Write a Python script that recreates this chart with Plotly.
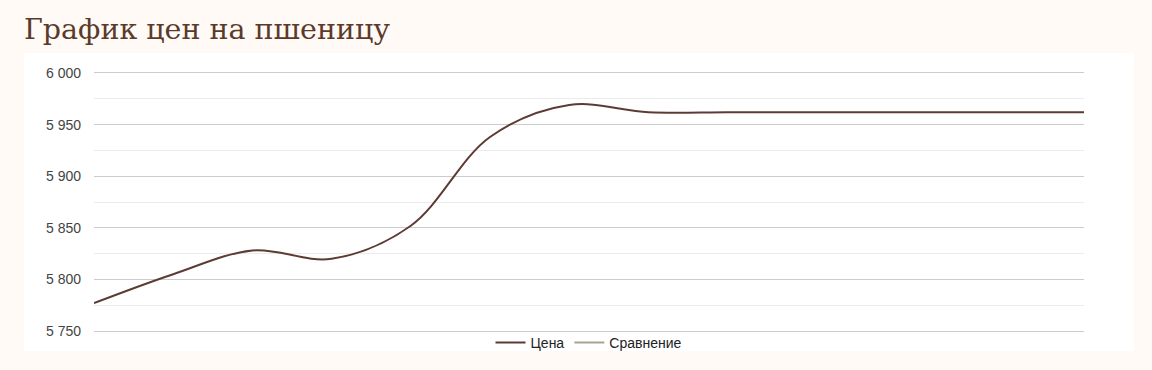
import plotly.graph_objects as go

# Data
days = [0, 1, 2, 3, 4, 5, 6, 7, 8, 9, 10, 11, 12, 12.5]
price = [5777, 5805, 5828, 5820, 5852, 5938, 5969, 5962, 5962, 5962, 5962, 5962, 5962, 5962]
compare = [None] * len(days)
y_ticks = [5750, 5800, 5850, 5900, 5950, 6000]
series_names = ["Цена", "Сравнение"]
title_text = "График цен на пшеницу"

W, H = 1152, 370
L, R, T, B = 94, 1084, 73, 332
pw, ph = R - L, B - T

fig = go.Figure()
fig.add_trace(go.Scatter(
    x=days, y=price, name=series_names[0], mode="lines",
    line=dict(color="#5d3b34", width=2, shape="spline", smoothing=1.0),
))
fig.add_trace(go.Scatter(
    x=days, y=compare, name=series_names[1], mode="lines",
    line=dict(color="#a6a690", width=2),
))

fig.update_layout(
    width=W, height=H,
    margin=dict(l=L, r=W - R, t=T, b=H - B, pad=0),
    paper_bgcolor="#fffaf6",
    plot_bgcolor="#ffffff",
    separators=", ",
    showlegend=True,
    legend=dict(
        orientation="h", x=0.5, xanchor="center",
        y=-(343 - B) / ph, yanchor="middle",
        font=dict(family="Liberation Sans, Arial", size=14, color="#222222"),
        bgcolor="rgba(0,0,0,0)", itemwidth=30,
    ),
    title=dict(
        text=title_text, xref="container", x=24 / W, xanchor="left",
        yref="container", y=1 - 29 / H, yanchor="middle",
        font=dict(family="DejaVu Serif", size=28.5, color="#5b3a2b"),
    ),
    shapes=[dict(
        type="rect", xref="paper", yref="paper", layer="below",
        x0=(24 - L) / pw, x1=(1134 - L) / pw,
        y0=-(352 - B) / ph, y1=(B - 53) / ph,
        fillcolor="#ffffff", line=dict(width=0),
    )],
)

fig.update_xaxes(
    range=[days[0], days[-1]], showgrid=False, zeroline=False,
    showticklabels=False, ticks="", showline=True, mirror=True,
    linecolor="#cccccc", linewidth=1,
)
fig.update_yaxes(
    range=[5750, 6000], tickvals=y_ticks, tickformat=",d",
    showgrid=True, gridcolor="#cccccc", gridwidth=1,
    minor=dict(dtick=25, tick0=5750, showgrid=True, gridcolor="#ebebeb", ticks=""),
    zeroline=False, ticks="", showline=False,
    tickfont=dict(family="Liberation Sans, Arial", size=14, color="#444444"),
    ticklabelstandoff=12,
)

fig.write_html("out.html")
